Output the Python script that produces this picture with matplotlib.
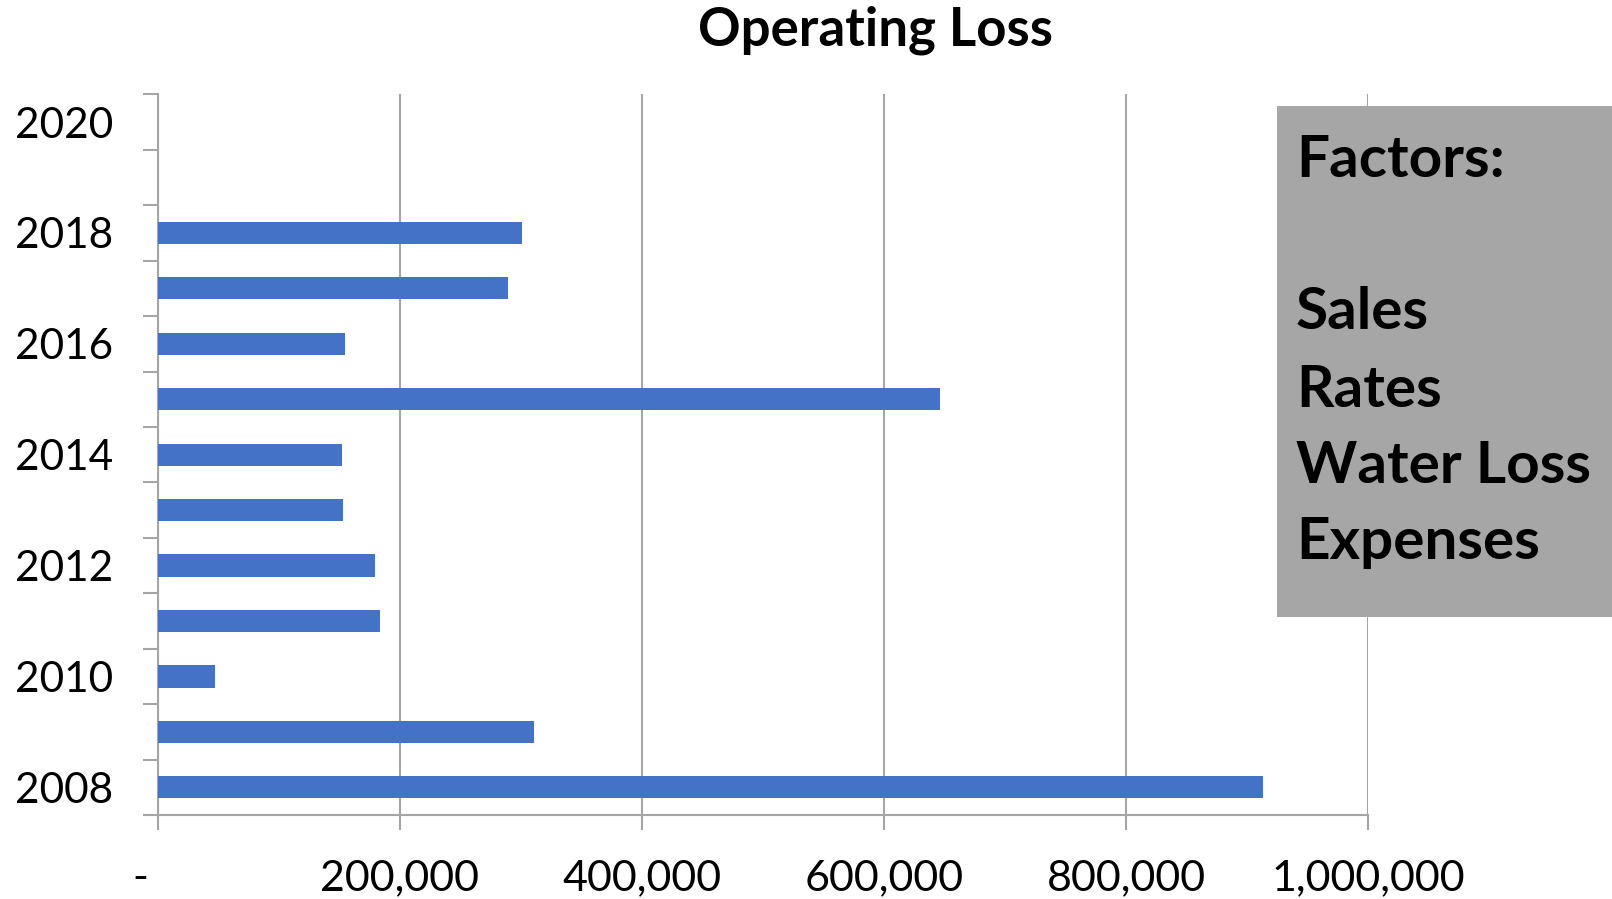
import numpy as np
import matplotlib
matplotlib.use("Agg")
import matplotlib.pyplot as plt
from matplotlib.patches import Rectangle
from matplotlib.ticker import FuncFormatter

plt.rcParams['font.family'] = ['Lato', 'DejaVu Sans']

# data
years = [2008, 2009, 2010, 2011, 2012, 2013, 2014, 2015, 2016, 2017, 2018, 2019, 2020]
loss = [912800, 311000, 47600, 183500, 179300, 153000, 152000, 646600, 154600, 289700, 300800, 0, 0]
label_years = [2008, 2010, 2012, 2014, 2016, 2018, 2020]
x_ticks = [0, 200000, 400000, 600000, 800000, 1000000]
factors = ["Factors:", "", "Sales", "Rates", "Water Loss", "Expenses"]

grid_col = '#a6a6a6'

fig = plt.figure(figsize=(16.12, 8.99), dpi=100)
ax = fig.add_axes([0.0978, 0.0934, 0.751, 0.8016])

pos = np.arange(len(years))
ax.barh(pos, loss, height=0.4, color='#4472C4', zorder=3)

ax.set_xlim(0, 1000000)
ax.set_ylim(-0.5, len(years) - 0.5)

ax.set_xticks(x_ticks)
ax.xaxis.set_major_formatter(FuncFormatter(lambda v, p: '-   ' if v == 0 else f'{v:,.0f}'))
ax.grid(axis='x', color=grid_col, linewidth=1.5, zorder=0)

# year labels at every other category, tick marks on the category edges
ax.set_yticks([years.index(y) for y in label_years])
ax.set_yticklabels([str(y) for y in label_years])
ax.set_yticks(np.arange(len(years) + 1) - 0.5, minor=True)
ax.tick_params(axis='y', which='major', length=0, pad=32, labelsize=30.5)
ax.tick_params(axis='y', which='minor', length=11, width=1.5, color=grid_col)
ax.tick_params(axis='x', length=11, width=1.5, color=grid_col, pad=21, labelsize=31)

for s in ['top', 'right']:
    ax.spines[s].set_visible(False)
for s in ['left', 'bottom']:
    ax.spines[s].set_color(grid_col)
    ax.spines[s].set_linewidth(1.5)

fig.text(0.543, 0.966, "Operating Loss", ha='center', va='center', fontsize=38, fontweight='bold')

# grey factors box
fig.patches.append(Rectangle((0.792, 0.3137), 0.21, 0.5684, transform=fig.transFigure,
                             facecolor='#a6a6a6', edgecolor='none', zorder=5))
line_y = [0.822, 0.737, 0.652, 0.566, 0.481, 0.396]
for txt, yy in zip(factors, line_y):
    fig.text(0.804, yy, txt, ha='left', va='center', fontsize=42, fontweight='bold', zorder=6)

fig.savefig('out.png', dpi=100)
